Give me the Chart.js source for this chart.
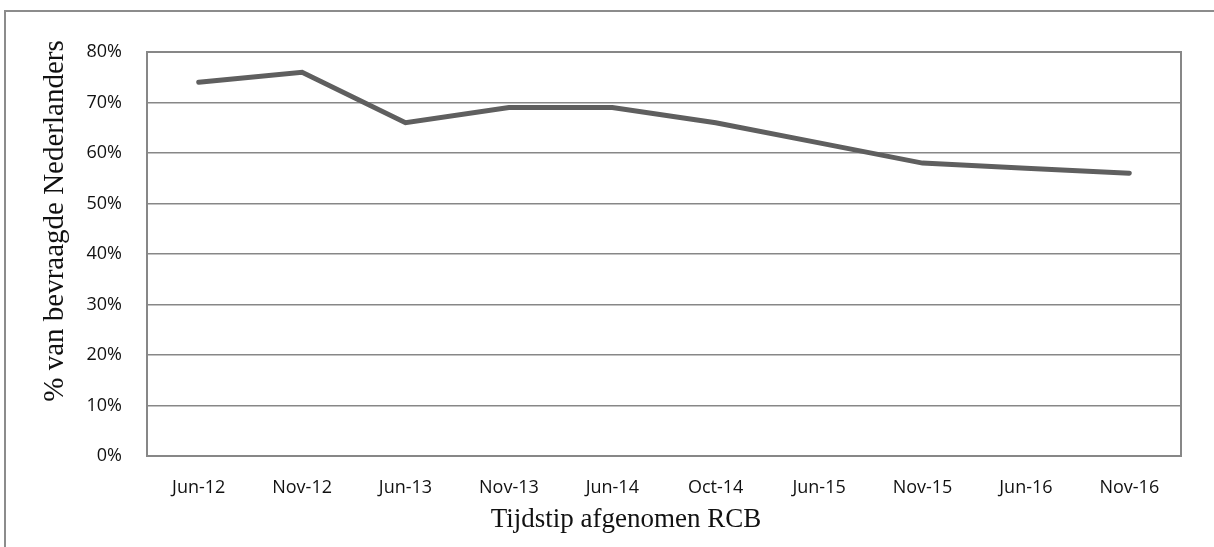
<!DOCTYPE html>
<html>
<head>
<meta charset="utf-8">
<script src="https://cdn.jsdelivr.net/npm/chart.js@4/dist/chart.umd.min.js"></script>
<style>
  html, body { margin: 0; padding: 0; background: #fff; }
  #wrap { width: 1214px; height: 547px; }
</style>
</head>
<body>
<div id="wrap"><canvas id="chart" width="1214" height="547"></canvas></div>
<script>
var categories = ['Jun-12', 'Nov-12', 'Jun-13', 'Nov-13', 'Jun-14', 'Oct-14', 'Jun-15', 'Nov-15', 'Jun-16', 'Nov-16'];
var percentages = [74, 76, 66, 69, 69, 66, 62, 58, 57, 56];
var yTitle = '% van bevraagde Nederlanders';
var xTitle = 'Tijdstip afgenomen RCB';

var gridColor = '#878787';
var tickFont = {family: "'Open Sans', 'Noto Sans', sans-serif", size: 18};
var serif = "'Liberation Serif', 'DejaVu Serif', serif";

// frame, plot border and axis titles drawn like the Excel original
var excelLook = {
    id: 'excelLook',
    beforeDraw: (chart) => {
        let ctx = chart.ctx;
        ctx.save();
        ctx.fillStyle = '#fff';
        ctx.fillRect(0, 0, chart.width, chart.height);
        ctx.strokeStyle = '#8c8c8c';
        ctx.lineWidth = 2;
        ctx.strokeRect(5, 11, chart.width + 20, chart.height + 20);
        ctx.restore();
    },
    beforeDatasetsDraw: (chart) => {
        let ctx = chart.ctx, a = chart.chartArea;
        ctx.save();
        ctx.strokeStyle = gridColor;
        ctx.lineWidth = 2;
        ctx.strokeRect(a.left, a.top, a.right - a.left, a.bottom - a.top);
        ctx.restore();
    },
    afterDraw: (chart) => {
        let ctx = chart.ctx, a = chart.chartArea;
        ctx.save();
        ctx.fillStyle = '#111';
        ctx.textAlign = 'center';
        ctx.textBaseline = 'middle';
        ctx.font = '27px ' + serif;
        ctx.fillText(xTitle, a.left + 479, 520);
        ctx.font = '29px ' + serif;
        ctx.translate(55, 221);
        ctx.rotate(-Math.PI / 2);
        ctx.fillText(yTitle, 0, 0);
        ctx.restore();
    }
};

new Chart(document.getElementById('chart'), {
    type: 'line',
    data: {
        labels: categories,
        datasets: [{
            label: yTitle,
            data: percentages,
            borderColor: '#5f5f5f',
            backgroundColor: '#5f5f5f',
            borderWidth: 5,
            borderCapStyle: 'round',
            borderJoinStyle: 'miter',
            pointRadius: 0,
            tension: 0
        }]
    },
    options: {
        responsive: false,
        animation: false,
        layout: {padding: {left: 0, right: 33, top: 52, bottom: 0}},
        plugins: {legend: {display: false}, tooltip: {enabled: false}},
        scales: {
            x: {
                offset: true,
                grid: {display: false, drawTicks: false},
                border: {display: false},
                ticks: {color: '#111', font: tickFont, padding: 21, maxRotation: 0, autoSkip: false},
                afterFit: (s) => { s.height = 91; }
            },
            y: {
                min: 0,
                max: 80,
                grid: {color: gridColor, lineWidth: 1.5, drawTicks: false},
                border: {display: false},
                ticks: {stepSize: 10, color: '#111', font: tickFont, padding: 25, callback: (v) => v + '%'},
                afterFit: (s) => { s.width = 147; }
            }
        }
    },
    plugins: [excelLook]
});
</script>
</body>
</html>
